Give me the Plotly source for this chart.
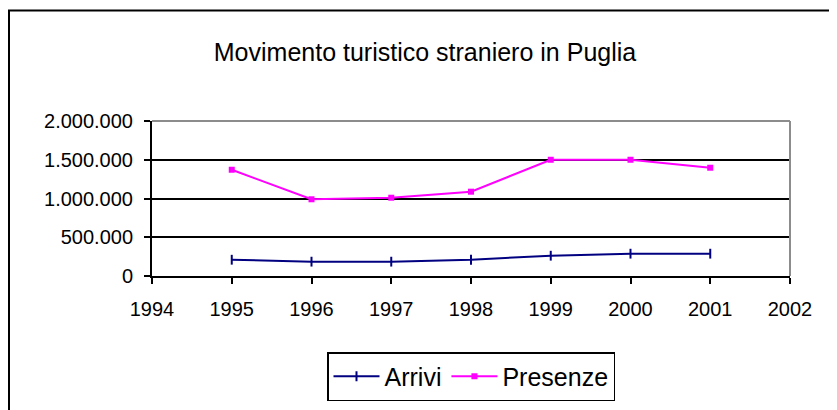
import plotly.graph_objects as go

years = [1995, 1996, 1997, 1998, 1999, 2000, 2001]
arrivi = [210000, 185000, 185000, 210000, 262000, 288000, 288000]
presenze = [1371000, 990000, 1010000, 1088000, 1500000, 1500000, 1397000]

W, H = 837, 410
OFF = 8  # page body margin offset
# target plot box in page pixels
L, R, T, B = 152, 790, 121, 276

fig = go.Figure()
fig.add_trace(go.Scatter(x=years, y=arrivi, name="Arrivi", mode="lines+markers",
                         line=dict(color="#000080", width=2),
                         marker=dict(symbol="line-ns", size=7, line=dict(color="#000080", width=2))))
fig.add_trace(go.Scatter(x=years, y=presenze, name="Presenze", mode="lines+markers",
                         line=dict(color="#FF00FF", width=2),
                         marker=dict(symbol="square", size=6, color="#FF00FF")))

ml, mt = L - OFF, T - OFF
mr = W - ml - (R - L)
mb = H - mt - (B - T)

px = lambda v: (v - L) / (R - L)
py = lambda v: (B - v) / (B - T)

fig.update_layout(
    width=W, height=H,
    margin=dict(l=ml, r=mr, t=mt, b=mb, pad=0),
    paper_bgcolor="white", plot_bgcolor="white",
    font=dict(family="Liberation Sans, Arial, sans-serif", size=20, color="black"),
    separators=",.",
    title=dict(text="Movimento turistico straniero in Puglia",
               x=px(425), xref="paper", xanchor="center",
               y=1 - (52 - OFF) / H, yref="container", yanchor="middle",
               font=dict(size=25, color="black")),
    showlegend=True,
    legend=dict(orientation="h", x=px(471), xanchor="center",
                y=py(352), yanchor="top",
                bordercolor="black", borderwidth=1.5, bgcolor="white",
                font=dict(size=25), itemwidth=46),
    xaxis=dict(range=[1994, 2002], dtick=1, tick0=1994, showgrid=False,
               showline=True, linecolor="black", linewidth=2,
               ticks="outside", ticklen=6, tickwidth=1.5, tickcolor="black",
               ticklabelstandoff=8,
               zeroline=False, fixedrange=True),
    yaxis=dict(range=[0, 2000000], dtick=500000, tickformat=",d",
               showgrid=True, gridcolor="black", gridwidth=1.5,
               showline=True, linecolor="black", linewidth=2,
               ticks="outside", ticklen=6, tickwidth=1.5, tickcolor="black",
               ticklabelstandoff=7,
               zeroline=False, fixedrange=True),
)

# grey top/right border of the plot area
fig.add_shape(type="line", xref="paper", yref="paper", x0=0, x1=1, y0=1, y1=1,
              line=dict(color="#8c8c8c", width=2), layer="above")
fig.add_shape(type="line", xref="paper", yref="paper", x0=1, x1=1, y0=0, y1=1,
              line=dict(color="#8c8c8c", width=2), layer="above")
# outer chart frame (left and top edges visible)
fig.add_shape(type="line", xref="paper", yref="paper", x0=px(9), x1=px(9), y0=py(10), y1=py(420),
              line=dict(color="black", width=2))
fig.add_shape(type="line", xref="paper", yref="paper", x0=px(8), x1=px(850), y0=py(10.5), y1=py(10.5),
              line=dict(color="black", width=2))

fig.write_html("out.html")
